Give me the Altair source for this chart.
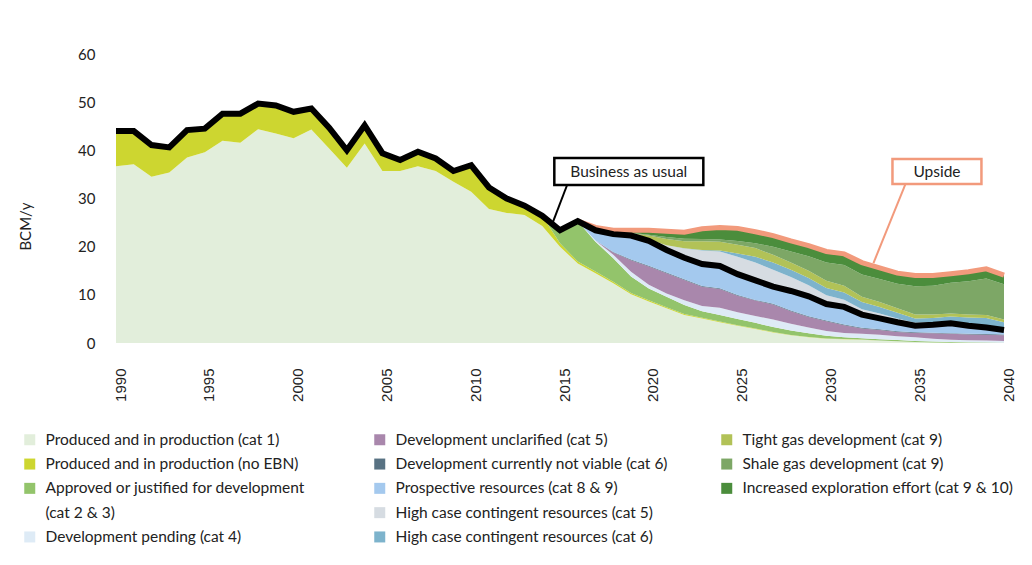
import altair as alt
import pandas as pd

years = list(range(1990, 2041))

# values in BCM/y, 1990..2040
cat1 = [36.7, 37.1, 34.5, 35.4, 38.5, 39.6, 42.0, 41.6, 44.4, 43.5, 42.5, 44.3, 40.4, 36.4, 41.4,
        35.7, 35.7, 36.7, 35.7, 33.5, 31.4, 27.8, 27.0, 26.6, 24.3,
        20.0, 16.5, 14.5, 12.4, 10.1, 8.6, 7.2, 5.8, 5.1, 4.3, 3.6, 2.9, 2.2, 1.6, 1.2, 0.9,
        0.8, 0.7, 0.5, 0.35, 0.2, 0.1, 0.05, 0.03, 0.02, 0.01]
no_ebn = [7.3, 6.9, 6.6, 5.2, 5.7, 4.9, 5.6, 6.0, 5.3, 5.8, 5.5, 4.4, 4.3, 3.6, 3.8,
          3.7, 2.3, 3.0, 2.6, 2.2, 5.5, 4.5, 3.0, 1.9, 2.1,
          0.7, 0.4, 0.35, 0.3, 0.3, 0.25, 0.2, 0.2, 0.15, 0.15, 0.1, 0.1, 0.1, 0.05, 0.05, 0.05,
          0.03, 0.02, 0, 0, 0, 0, 0, 0, 0, 0]
approved = [0] * 25 + [2.7, 8.4, 6.15, 4.9, 3.4, 2.45, 2.2, 1.9, 1.35, 1.35, 1.3, 1.2, 1.0, 0.95,
                       0.75, 0.55, 0.37, 0.28, 0.3, 0.25, 0.2, 0.2, 0.15, 0.12, 0.08, 0.04]
pending = [0] * 25 + [0, 0, 0.3, 0.7, 1.0, 0.8, 0.7, 1.0, 1.1, 1.5, 1.4, 1.4, 1.6, 1.4, 1.2, 1.0,
                      0.9, 0.9, 0.9, 0.8, 0.8, 0.6, 0.5, 0.4, 0.4, 0.35]
unclarified = [0] * 25 + [0, 0, 0, 0.5, 2.4, 3.8, 4.2, 4.2, 4.0, 3.9, 3.4, 3.2, 3.1, 2.6, 2.2, 2.0,
                          1.6, 1.1, 1.0, 0.9, 0.9, 1.1, 1.2, 1.2, 1.2, 1.2]
not_viable = [0] * 25 + [0, 0, 0, 0.1] + [0.15] * 22
prospective = [0] * 25 + [0, 0, 2.1, 3.7, 4.95, 5.15, 4.65, 4.45, 4.55, 4.65, 4.35, 4.05, 3.55,
                          4.05, 4.15, 3.45, 3.65, 2.75, 2.25, 1.85, 1.35, 1.65, 2.05, 1.7, 1.35, 0.95]
hc_cat5 = [0] * 25 + [0, 0, 0, 0, 0.1, 0.3, 1.0, 1.9, 2.8, 3.0, 3.6, 3.7, 3.5, 2.9, 2.3, 1.8,
                      1.5, 1.1, 1.0, 0.8, 0.6, 0.5, 0.4, 0.4, 0.4, 0.4]
hc_cat6 = [0] * 25 + [0, 0, 0, 0, 0, 0, 0, 0.05, 0.1, 0.2, 0.7, 1.2, 1.5, 1.5, 1.5, 1.5,
                      1.5, 1.5, 1.4, 1.2, 0.9, 0.9, 1.0, 1.3, 1.6, 1.2]
tight_gas = [0] * 25 + [0, 0, 0.25, 0.3, 0.4, 0.8, 1.3, 1.5, 1.8, 1.8, 1.8, 1.8, 1.6, 1.5, 1.5, 1.5,
                        1.4, 1.1, 1.0, 0.9, 0.8, 0.7, 0.6, 0.6, 0.6, 0.6]
shale_gas = [0] * 25 + [0, 0, 0, 0.1, 0.1, 0.2, 0.4, 0.5, 0.5, 0.5, 0.8, 1.0, 1.7, 2.3, 3.0, 3.8,
                        4.3, 4.6, 4.8, 5.1, 5.9, 6.0, 6.4, 6.9, 7.6, 7.3]
exploration = [0] * 25 + [0, 0, 0.35, 0.4, 0.5, 0.9, 1.2, 1.35, 2.1, 2.5, 2.6, 2.4, 2.3, 2.2, 2.2, 2.3,
                          2.3, 2.5, 2.3, 2.2, 2.2, 2.1, 1.9, 2.0, 2.0, 1.9]

names = [
    "Produced and in production (cat 1)",
    "Produced and in production (no EBN)",
    "Approved or justified for development (cat 2 & 3)",
    "Development pending (cat 4)",
    "Development unclarified (cat 5)",
    "Development currently not viable (cat 6)",
    "Prospective resources (cat 8 & 9)",
    "High case contingent resources (cat 5)",
    "High case contingent resources (cat 6)",
    "Tight gas development (cat 9)",
    "Shale gas development (cat 9)",
    "Increased exploration effort (cat 9 & 10)",
]
series_values = [cat1, no_ebn, approved, pending, unclarified, not_viable, prospective,
                 hc_cat5, hc_cat6, tight_gas, shale_gas, exploration]
colors = ["#e2eedb", "#cdd630", "#93c46b", "#deebf6", "#a987ac", "#587283", "#a4c9ee",
          "#d6dce2", "#7db3cc", "#b2c257", "#7da766", "#4b8d3c"]
N_BAU = 7  # first seven layers make up "Business as usual"

rows = []
for k, (nm, vals) in enumerate(zip(names, series_values)):
    for yr, v in zip(years, vals):
        rows.append({"year": yr, "series": nm, "value": v, "order": k})
df = pd.DataFrame(rows)

FONT = "Lato"
TXT = "#222222"

x_scale = alt.Scale(domain=[1990, 2040], nice=False, zero=False)
y_scale = alt.Scale(domain=[0, 60], nice=False)
x_axis = alt.Axis(values=list(range(1990, 2041, 5)), format="d", labelAngle=-90,
                  labelFont="Liberation Sans", labelFontSize=15, labelColor=TXT,
                  ticks=False, tickSize=0, domain=False, grid=False,
                  labelPadding=25, labelOffset=4, title=None)
y_axis = alt.Axis(values=list(range(0, 61, 10)), labelFont=FONT, labelFontSize=15,
                  labelColor=TXT, ticks=False, tickSize=0, domain=False, grid=False,
                  labelPadding=21, title="BCM/y", titleFont=FONT, titleFontSize=15,
                  titleFontWeight="normal", titleColor=TXT, titlePadding=44,
                  titleY=172)


def X(field):
    return alt.X(field, scale=x_scale, axis=x_axis)


def Y(field):
    return alt.Y(field, scale=y_scale, axis=y_axis)


base = alt.Chart(df).transform_stack(
    stack="value", groupby=["year"], sort=[alt.SortField("order", order="ascending")],
    as_=["v0", "v1"])

legend_groups = [
    ([0, 1, 2, "(cat 2 & 3)", 3], -94),
    ([4, 5, 6, 7, 8], 256),
    ([9, 10, 11], 603),
]

area_layers = []
for items, lx in legend_groups:
    dom, rng, keep = [], [], []
    for it in items:
        if isinstance(it, str):
            dom.append(it)
            rng.append("rgba(255,255,255,0)")
        else:
            dom.append(names[it])
            rng.append(colors[it])
            keep.append(names[it])
    layer = base.transform_filter(
        alt.FieldOneOfPredicate(field="series", oneOf=keep)
    ).mark_area(strokeWidth=0).encode(
        x=X("year:Q"),
        y=Y("v1:Q"),
        y2="v0:Q",
        color=alt.Color("series:N", scale=alt.Scale(domain=dom, range=rng),
                        legend=alt.Legend(
                            orient="none", legendX=lx, legendY=378, direction="vertical",
                            title=None, symbolType="square", symbolSize=121,
                            symbolStrokeWidth=0, labelFont=FONT, labelFontSize=15.5,
                            labelColor=TXT, labelOffset=8, rowPadding=7.3, padding=0,
                            labelLimit=500,
                            labelExpr="datum.label == 'Approved or justified for development (cat 2 & 3)' ? 'Approved or justified for development' : datum.label")),
        order=alt.Order("order:Q"),
    )
    area_layers.append(layer)

upside_line = alt.Chart(df).transform_filter(alt.datum.year >= 2016).transform_aggregate(
    total="sum(value)", groupby=["year"]
).mark_line(color="#f29a7c", strokeWidth=5).encode(x=X("year:Q"), y=Y("total:Q"))
bau_line = alt.Chart(df).transform_filter(alt.datum.order < N_BAU).transform_aggregate(
    total="sum(value)", groupby=["year"]
).mark_line(color="black", strokeWidth=6).encode(x=X("year:Q"), y=Y("total:Q"))

# annotation callouts (data units)
callouts = [
    {"label": "Business as usual", "color": "black",
     "bx1": 2014.68, "bx2": 2023.07, "by1": 38.4, "by2": 32.8,
     "lx1": 2015.4, "ly1": 32.8, "lx2": 2014.6, "ly2": 25.1},
    {"label": "Upside", "color": "#f29a7c",
     "bx1": 2033.72, "bx2": 2038.73, "by1": 38.2, "by2": 33.0,
     "lx1": 2034.45, "ly1": 33.0, "lx2": 2032.65, "ly2": 16.6},
]
ann_layers = []
for c in callouts:
    cdf = pd.DataFrame([{**c, "tx": (c["bx1"] + c["bx2"]) / 2, "ty": (c["by1"] + c["by2"]) / 2}])
    ch = alt.Chart(cdf)
    ann_layers.append(ch.mark_rule(color=c["color"], strokeWidth=2).encode(
        x=X("lx1:Q"), x2="lx2:Q", y=Y("ly1:Q"), y2="ly2:Q"))
    ann_layers.append(ch.mark_rect(fill="white", stroke=c["color"], strokeWidth=2.5).encode(
        x=X("bx1:Q"), x2="bx2:Q", y=Y("by1:Q"), y2="by2:Q"))
    ann_layers.append(ch.mark_text(font=FONT, fontSize=15.5, color=TXT).encode(
        x=X("tx:Q"), y=Y("ty:Q"), text="label:N"))

chart = alt.layer(*area_layers, upside_line, bau_line, *ann_layers).resolve_scale(
    color="independent"
).properties(
    width=888, height=289,
    padding={"left": 108, "top": 46, "right": 20, "bottom": 210},
    autosize=alt.AutoSizeParams(type="none"),
    background="white",
).configure_view(stroke=None)

chart.save("out.html", embed_options={"renderer": "svg", "actions": False})
